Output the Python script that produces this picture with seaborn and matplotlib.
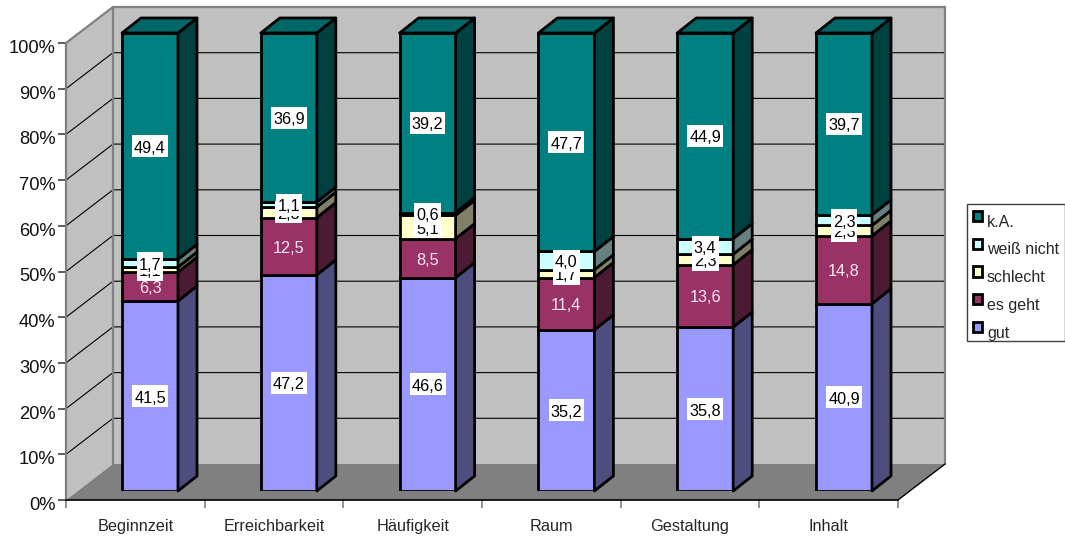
import pandas as pd
import seaborn as sns
import matplotlib.pyplot as plt
from matplotlib.patches import Polygon
from matplotlib.path import Path
from matplotlib.transforms import ScaledTranslation

categories = ["Beginnzeit", "Erreichbarkeit", "Häufigkeit", "Raum", "Gestaltung", "Inhalt"]
series_names = ["gut", "es geht", "schlecht", "weiß nicht", "k.A."]
gut = [41.5, 47.2, 46.6, 35.2, 35.8, 40.9]
es_geht = [6.3, 12.5, 8.5, 11.4, 13.6, 14.8]
schlecht = [1.1, 2.3, 5.1, 1.7, 2.3, 2.3]
weiss_nicht = [1.7, 1.1, 0.6, 4.0, 3.4, 2.3]
k_a = [49.4, 36.9, 39.2, 47.7, 44.9, 39.7]
front_colors = ["#9999FF", "#993366", "#FFFFCC", "#CCFFFF", "#008080"]
side_colors = ["#4D4D80", "#4D1A33", "#808066", "#668080", "#004040"]
top_color = "#006666"

W, H = 1065, 539
sns.set_style("white")
plt.rcParams["font.family"] = ["Liberation Sans", "DejaVu Sans"]

df = pd.DataFrame({"cat": categories, "gut": gut, "es geht": es_geht, "schlecht": schlecht,
                   "weiß nicht": weiss_nicht, "k.A.": k_a})

fig = plt.figure(figsize=(W / 100, H / 100), dpi=100, facecolor="white")


def px_axes(left, right, top, bottom):
    return fig.add_axes([left / W, 1 - bottom / H, (right - left) / W, (bottom - top) / H])


def label_box(x0, y0, w, h, mutation_size):
    # white label box, more room above the digits than below
    l, r, b, t = x0 - 2, x0 + w + 2, y0 - 1.5, y0 + h + 5.5
    return Path([(l, b), (r, b), (r, t), (l, t), (l, b)], closed=True)


# frame axes: front plane of the fake 3d box
ax = px_axes(66, 898, 43, 500)
ax.set_xlim(0, 6)
ax.set_ylim(0, 100)
ax.set_facecolor("none")
ddx = 47 / 832 * 6
ddy = 36 / 457 * 100

ax.add_patch(Polygon([(0, 0), (ddx, ddy), (ddx, 100 + ddy), (0, 100)], fc="#C0C0C0", ec="none", clip_on=False))
ax.add_patch(Polygon([(ddx, ddy), (6 + ddx, ddy), (6 + ddx, 100 + ddy), (ddx, 100 + ddy)],
                     fc="#C0C0C0", ec="none", clip_on=False))
ax.add_patch(Polygon([(0, 0), (ddx, ddy), (6 + ddx, ddy), (6, 0)], fc="#808080", ec="none", clip_on=False))

yticks = list(range(0, 101, 10))
for t in yticks[1:-1]:
    ax.plot([0, ddx, 6 + ddx], [t, t + ddy, t + ddy], color="black", lw=0.8, clip_on=False)
# wall borders
ax.plot([0, ddx, 6 + ddx, 6 + ddx], [100, 100 + ddy, 100 + ddy, ddy], color="#808080", lw=1.6, clip_on=False)
ax.plot([ddx, ddx], [ddy, 100 + ddy], color="#808080", lw=1.6, clip_on=False)
ax.plot([6, 6 + ddx], [0, ddy], color="black", lw=1, clip_on=False)

ax.set_yticks(yticks)
ax.set_yticklabels([f"{t}%" for t in yticks], fontsize=13.2, color="#111111")
ax.set_xticks(range(7))
ax.set_xticklabels([])
ax.set_xticks([i + 0.5 for i in range(6)], labels=categories, minor=True, fontsize=11.7)
ax.tick_params(axis="y", left=True, length=6, width=1.2, color="#404040", pad=1.5)
ax.tick_params(axis="x", which="major", bottom=True, length=6, width=1.2, color="#808080")
ax.tick_params(axis="x", which="minor", bottom=False, pad=12)
# y labels sit a little below their ticks in the original
shift = ScaledTranslation(0, -2.5 / 72, fig.dpi_scale_trans)
for lab in ax.get_yticklabels():
    lab.set_transform(lab.get_transform() + shift)
for s in ["top", "right"]:
    ax.spines[s].set_visible(False)
ax.spines["left"].set_color("#808080")
ax.spines["left"].set_linewidth(1.6)
ax.spines["bottom"].set_color("black")
ax.spines["bottom"].set_linewidth(1.2)

# bar axes: same plane pushed into the box
step = 138.8
bx = px_axes(150 - 0.5 * step, 150 + 5.5 * step, 33, 491)
bx.set_xlim(-0.5, 5.5)
bx.set_ylim(0, 100)
bx.patch.set_alpha(0)
bottom = [0.0] * 6
for name, col in zip(series_names, front_colors):
    sns.barplot(data=df, x="cat", y=name, color=col, saturation=1, width=56 / step, bottom=bottom,
                edgecolor="black", linewidth=2, label=name, errorbar=None, legend=False, ax=bx)
    bottom = [b + v for b, v in zip(bottom, df[name])]
bx.set_xlim(-0.5, 5.5)
bx.set_ylim(0, 100)
bx.axis("off")

bdx = 19 / step
bdy = 15 / 458 * 100
for cont, side in zip(bx.containers, side_colors):
    for p in cont:
        x1 = p.get_x() + p.get_width()
        y0 = p.get_y()
        y1 = y0 + p.get_height()
        bx.add_patch(Polygon([(x1, y0), (x1 + bdx, y0 + bdy), (x1 + bdx, y1 + bdy), (x1, y1)],
                             fc=side, ec="black", lw=2, joinstyle="round", clip_on=False))
for p in bx.containers[-1]:
    x0 = p.get_x()
    x1 = x0 + p.get_width()
    y1 = p.get_y() + p.get_height()
    bx.add_patch(Polygon([(x0, y1), (x0 + bdx, y1 + bdy), (x1 + bdx, y1 + bdy), (x1, y1)],
                         fc=top_color, ec="black", lw=2, joinstyle="round", clip_on=False))

for cont, name in zip(bx.containers, series_names):
    texts = [f"{v:.1f}".replace(".", ",") for v in df[name]]
    if name == "es geht":
        anns = bx.bar_label(cont, labels=texts, label_type="center", fontsize=11.7, color="#F5E6EE")
    else:
        anns = bx.bar_label(cont, labels=texts, label_type="center", fontsize=11.7, color="black",
                            bbox=dict(facecolor="white", edgecolor="none", boxstyle=label_box))
    for a in anns:
        a.xyann = (0, -1.5)

handles, labels = bx.get_legend_handles_labels()
leg = fig.legend(handles[::-1], labels[::-1], loc="upper left", bbox_to_anchor=(967 / W, 1 - 204 / H),
                 fontsize=11.5, frameon=True, fancybox=False, framealpha=1, edgecolor="#404040",
                 borderaxespad=0, borderpad=0.35, labelspacing=0.8, handlelength=0.6, handleheight=0.6,
                 handletextpad=0.3)
for t in leg.get_texts():
    t.set_position((0, -5))

plt.savefig("out.png", dpi=100)
